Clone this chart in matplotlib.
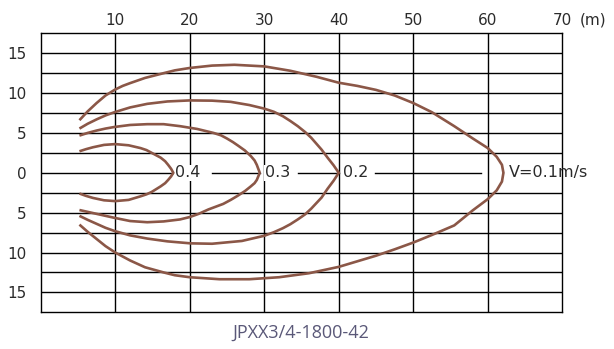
import matplotlib
matplotlib.use("Agg")
import matplotlib.pyplot as plt

plt.rcParams["font.family"] = ["DejaVu Sans"]

CURVE_COLOR = "#8b5747"
TEXT_COLOR = "#2b2b2b"
TITLE_COLOR = "#5a5878"

X_TICKS = [10, 20, 30, 40, 50, 60, 70]
Y_TICKS = [-15, -10, -5, 0, 5, 10, 15]
Y_TICK_LABELS = ["15", "10", "5", "0", "5", "10", "15"]

# throw contours (x = distance m, y = lateral m)
V01_X = [5.2, 6.3, 7.5, 8.7, 10, 11, 12, 14, 16.5, 18, 20, 23, 26, 30, 33.5, 37, 40, 42.5, 45, 47.5, 50, 52.5,
         55.5, 58, 60, 61.2, 61.9, 62.1,
         61.9, 61.2, 60, 58, 55.5, 52.5, 50, 47.5, 45, 42.5, 40, 36, 32, 28, 24, 20, 18, 16.5, 14, 12, 10, 8.7,
         7.5, 6.3, 5.2]
V01_Y = [6.6, 7.7, 8.75, 9.7, 10.45, 10.9, 11.25, 11.9, 12.5, 12.85, 13.15, 13.45, 13.55, 13.35, 12.8, 12.05,
         11.3, 10.9, 10.4, 9.7, 8.75, 7.6,
         5.85, 4.3, 3.1, 2.0, 1.0, 0,
         -1.1, -2.2, -3.3, -4.7, -6.6, -7.8, -8.75, -9.6, -10.4, -11.1, -11.8, -12.6, -13.1, -13.35, -13.35, -13.1,
         -12.85, -12.5, -11.85, -11.0, -10.0, -9.2, -8.3, -7.4, -6.5]

V02_X = [5.2, 6.3, 7.5, 8.7, 9.9, 12, 14.3, 17, 20, 23, 25.5, 28, 30, 31.3, 32.5, 33.5, 34.5, 35.5, 36.3, 37.7,
         38.5, 39.3, 40,
         39.3, 38.5, 37.7, 36.3, 35.5, 34.5, 33.5, 32.5, 31.3, 30, 27, 23, 20.1, 17, 14.3, 12, 9.9, 8.7, 7.5, 6.3,
         5.2]
V02_Y = [5.55, 6.15, 6.7, 7.2, 7.6, 8.2, 8.65, 8.95, 9.08, 9.05, 8.9, 8.5, 8.05, 7.65, 7.1, 6.5, 5.85, 5.1, 4.4,
         2.9, 1.9, 0.95, 0,
         -1.0, -2.0, -3.1, -4.5, -5.2, -5.85, -6.45, -6.95, -7.45, -7.9, -8.55, -8.9, -8.85, -8.6, -8.25, -7.85,
         -7.3, -6.9, -6.4, -5.9, -5.4]

V03_X = [5.2, 6.3, 7.5, 8.7, 9.9, 12, 14.3, 16.5, 18.7, 21, 23.2, 24.2, 25, 25.8, 26.5, 27.4, 28.2, 28.7, 29.0,
         29.4,
         29.0, 28.7, 28.2, 27.4, 26.4, 25.5, 24.5, 23.5, 22.5, 21.2, 20, 18.7, 16.5, 14.3, 12, 9.9, 8.7, 7.5, 6.3,
         5.2]
V03_Y = [4.67, 5.0, 5.3, 5.55, 5.75, 6.0, 6.1, 6.1, 5.85, 5.5, 5.0, 4.7, 4.3, 3.85, 3.4, 2.8, 2.1, 1.55, 1.0,
         0,
         -0.9, -1.3, -1.7, -2.3, -2.9, -3.4, -3.9, -4.25, -4.6, -5.15, -5.55, -5.85, -6.1, -6.2, -6.05, -5.65,
         -5.4, -5.15, -4.9, -4.67]

V04_X = [5.2, 6.1, 7, 8.5, 10, 11.8, 13.4, 14.2, 14.9, 15.5, 16.1, 16.7, 17.1, 17.5, 17.8,
         17.5, 17.1, 16.7, 16.1, 15.5, 14.9, 14.2, 13.4, 11.8, 10, 8.5, 7, 6.1, 5.2]
V04_Y = [2.7, 2.97, 3.2, 3.5, 3.6, 3.45, 3.1, 2.85, 2.5, 2.2, 1.9, 1.45, 1.0, 0.5, 0,
         -0.45, -0.9, -1.3, -1.7, -2.05, -2.4, -2.7, -2.95, -3.4, -3.55, -3.45, -3.15, -2.9, -2.6]

LABELS = ["0.4", "0.3", "0.2", "V=0.1m/s"]
LABEL_X = [18.0, 30.1, 40.6, 62.8]

# pieces of the zero line that stay visible between the labels
ZERO_SEGMENTS = [(0, 17.8), (23.0, 29.4), (34.5, 40.0), (44.8, 59.1)]


def draw_grid(ax):
    for x in X_TICKS[:-1]:
        ax.axvline(x, color="black", lw=1.0, zorder=1)
    y = -15.0
    while y <= 15.0:
        if y != 0:
            ax.axhline(y, color="black", lw=1.0, zorder=1)
        y += 2.5
    for x0, x1 in ZERO_SEGMENTS:
        ax.plot([x0, x1], [0, 0], color="black", lw=1.0, zorder=1)


def draw_curves(ax):
    for xs, ys in [(V01_X, V01_Y), (V02_X, V02_Y), (V03_X, V03_Y), (V04_X, V04_Y)]:
        ax.plot(xs, ys, color=CURVE_COLOR, lw=1.9, solid_capstyle="butt",
                solid_joinstyle="round", zorder=4)
    for txt, x in zip(LABELS, LABEL_X):
        bbox = None
        if txt != LABELS[-1]:
            bbox = dict(facecolor="white", edgecolor="none", pad=0.5)
        ax.text(x, 0, txt, ha="left", va="center", fontsize=11.5,
                color=TEXT_COLOR, bbox=bbox, zorder=3)


def main():
    fig = plt.figure(figsize=(6.14, 3.49), dpi=100)
    ax = fig.add_axes([40.7 / 614, 1 - 312.3 / 349, 521.6 / 614, 279 / 349])
    ax.set_xlim(0, 70)
    ax.set_ylim(-17.5, 17.5)

    draw_grid(ax)
    draw_curves(ax)

    ax.xaxis.tick_top()
    ax.set_xticks(X_TICKS)
    ax.set_xticklabels([str(t) for t in X_TICKS])
    ax.set_yticks(Y_TICKS)
    ax.set_yticklabels(Y_TICK_LABELS)
    ax.tick_params(length=0, labelsize=11, colors=TEXT_COLOR)
    ax.tick_params(axis="x", pad=4)
    ax.tick_params(axis="y", pad=10)
    for s in ax.spines.values():
        s.set_linewidth(1.0)
        s.set_color("black")

    fig.text(580 / 614, 1 - 20 / 349, "(m)", ha="left", va="center",
             fontsize=11, color=TEXT_COLOR)
    fig.text(301 / 614, 1 - 333 / 349, "JPXX3/4-1800-42", ha="center",
             va="center", fontsize=13, color=TITLE_COLOR,
             family=["Open Sans", "DejaVu Sans"])

    fig.savefig("out.png", dpi=100)
    plt.close(fig)


if __name__ == "__main__":
    main()
